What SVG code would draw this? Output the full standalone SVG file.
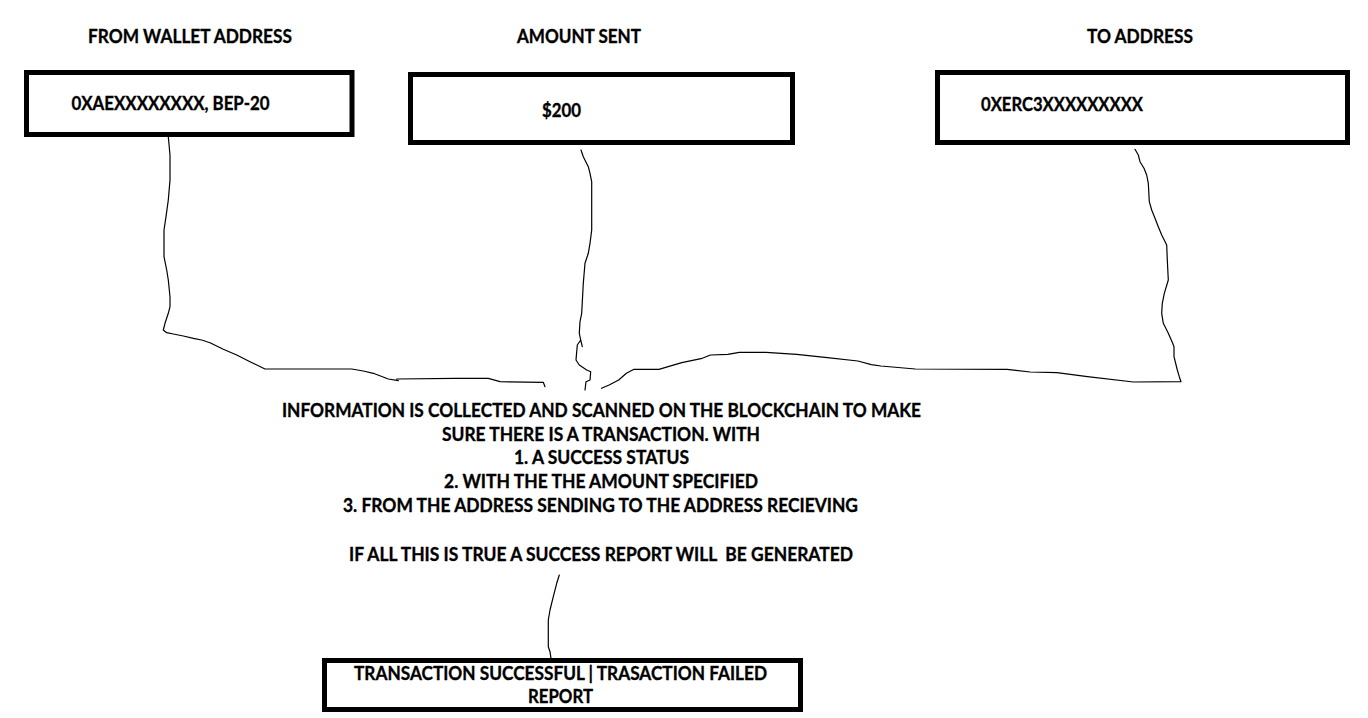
<svg xmlns="http://www.w3.org/2000/svg" width="1368" height="718" viewBox="0 0 1368 718">
<style>
  .box { fill: #ffffff; stroke: #000000; stroke-width: 5; }
  .t { font-family: Lato, "Liberation Sans", Arial, sans-serif; font-weight: 700; font-size: 19.5px; fill: #000000; stroke: #000000; stroke-width: 0.35; white-space: pre; }
  .wire { fill: none; stroke: #000000; stroke-width: 1.2; stroke-linejoin: round; stroke-linecap: round; }
</style>
<rect x="0" y="0" width="1368" height="718" fill="#ffffff"/>

<g id="connectors">
  <path class="wire" d="M168.3,136.7 L170,155 L170,180 L168.3,200 L166,216.7 L164,230 L164,256.7 L166.7,270 L168.3,280 L170,296.7 L170,306.7 L168.3,313.3 L165,323.3 L163.3,330 L166.7,332.7 L173.3,334 L183.3,336 L193.3,338.3 L201.7,340 L210,342.7 L223.3,349.3 L236.7,355 L250,361.7 L265,369 L351.7,369 L363.3,371 L373.3,373.3 L388.3,379 L398.3,380.7 M396.7,379 L455,378.3 L488.3,378.3 L500,381.7 L543.3,382.3 L545,386.7"/>
  <path class="wire" d="M581,150 L583.3,156.7 L588.3,166.7 L590,173.3 L591.7,181.7 L591.7,230 L590,243.3 L588.3,253.3 L585,263.3 L583.3,283.3 L581.7,313.3 L580,321.7 L579.3,333.3 L580.7,340 L577.3,345 L576,360 L579.3,365 L586.7,370 L590.7,371.7 L590,380 L586,381.7 L585,390 M580.7,340 L582.3,346.7"/>
  <path class="wire" d="M1135,149.3 L1138.3,155 L1140,161.7 L1144,168.3 L1146.7,175 L1148.3,183.3 L1149.3,201.7 L1151.7,210 L1155,218.3 L1158.3,226.7 L1161.7,235 L1166.7,245 L1167.3,260 L1168.3,280 L1164.3,293.3 L1162.3,303.3 L1161.7,313.3 L1163.3,323.3 L1168.3,333.3 L1172.7,343.3 L1174,346.7 L1174,356.7 L1177.3,370 L1179.3,376.7 L1181,381.7 L1133.4,382 L1087.5,376.7 L1056.9,372.7 L1030,372 L1007.1,369.3 L915.3,369 L880.9,366 L871.3,364.7 L857.9,361 L827.3,357.7 L796.7,354.3 L766,352.3 L739.3,352.3 L727.8,354.3 L710.5,355 L701,358.7 L681.8,362.7 L658.9,369.3 L634,369.3 L626.4,373.3 L618.7,380 L609.1,385 L601.5,388.3"/>
  <path class="wire" d="M559.3,575 L556.7,583.3 L553.3,596.7 L550,610 L548.3,620 L548.3,646.7 L550,651.7 L551,658.3 L551,683"/>
</g>

<g id="label-from">
  <text class="t" x="88" y="43" textLength="204" lengthAdjust="spacingAndGlyphs">FROM WALLET ADDRESS</text>
</g>
<g id="label-amount">
  <text class="t" x="517" y="43" textLength="124" lengthAdjust="spacingAndGlyphs">AMOUNT SENT</text>
</g>
<g id="label-to">
  <text class="t" x="1087" y="43" textLength="106" lengthAdjust="spacingAndGlyphs">TO ADDRESS</text>
</g>

<g id="node-from">
  <rect class="box" x="26.5" y="72.5" width="325.5" height="62"/>
  <text class="t" x="71.5" y="110" textLength="198" lengthAdjust="spacingAndGlyphs">0XAEXXXXXXXX, BEP-20</text>
</g>
<g id="node-amount">
  <rect class="box" x="410.5" y="74.5" width="382" height="68"/>
  <text class="t" x="542" y="117" textLength="39" lengthAdjust="spacingAndGlyphs">$200</text>
</g>
<g id="node-to">
  <rect class="box" x="937.5" y="72.5" width="410" height="70"/>
  <text class="t" x="981" y="111" textLength="162" lengthAdjust="spacingAndGlyphs">0XERC3XXXXXXXXX</text>
</g>

<g id="node-check">
  <text class="t" x="282" y="417" textLength="639" lengthAdjust="spacingAndGlyphs">INFORMATION IS COLLECTED AND SCANNED ON THE BLOCKCHAIN TO MAKE</text>
  <text class="t" x="442" y="441" textLength="318" lengthAdjust="spacingAndGlyphs">SURE THERE IS A TRANSACTION. WITH</text>
  <text class="t" x="514" y="464" textLength="175" lengthAdjust="spacingAndGlyphs">1. A SUCCESS STATUS</text>
  <text class="t" x="444" y="488" textLength="314" lengthAdjust="spacingAndGlyphs">2. WITH THE THE AMOUNT SPECIFIED</text>
  <text class="t" x="343" y="512" textLength="515" lengthAdjust="spacingAndGlyphs">3. FROM THE ADDRESS SENDING TO THE ADDRESS RECIEVING</text>
  <text class="t" x="349" y="561" textLength="504" lengthAdjust="spacingAndGlyphs">IF ALL THIS IS TRUE A SUCCESS REPORT WILL  BE GENERATED</text>
</g>

<g id="node-report">
  <rect class="box" x="324.5" y="660.5" width="476" height="49"/>
  <text class="t" x="354" y="680" textLength="413" lengthAdjust="spacingAndGlyphs">TRANSACTION SUCCESSFUL | TRASACTION FAILED</text>
  <text class="t" x="528" y="703" textLength="65" lengthAdjust="spacingAndGlyphs">REPORT</text>
</g>
</svg>
